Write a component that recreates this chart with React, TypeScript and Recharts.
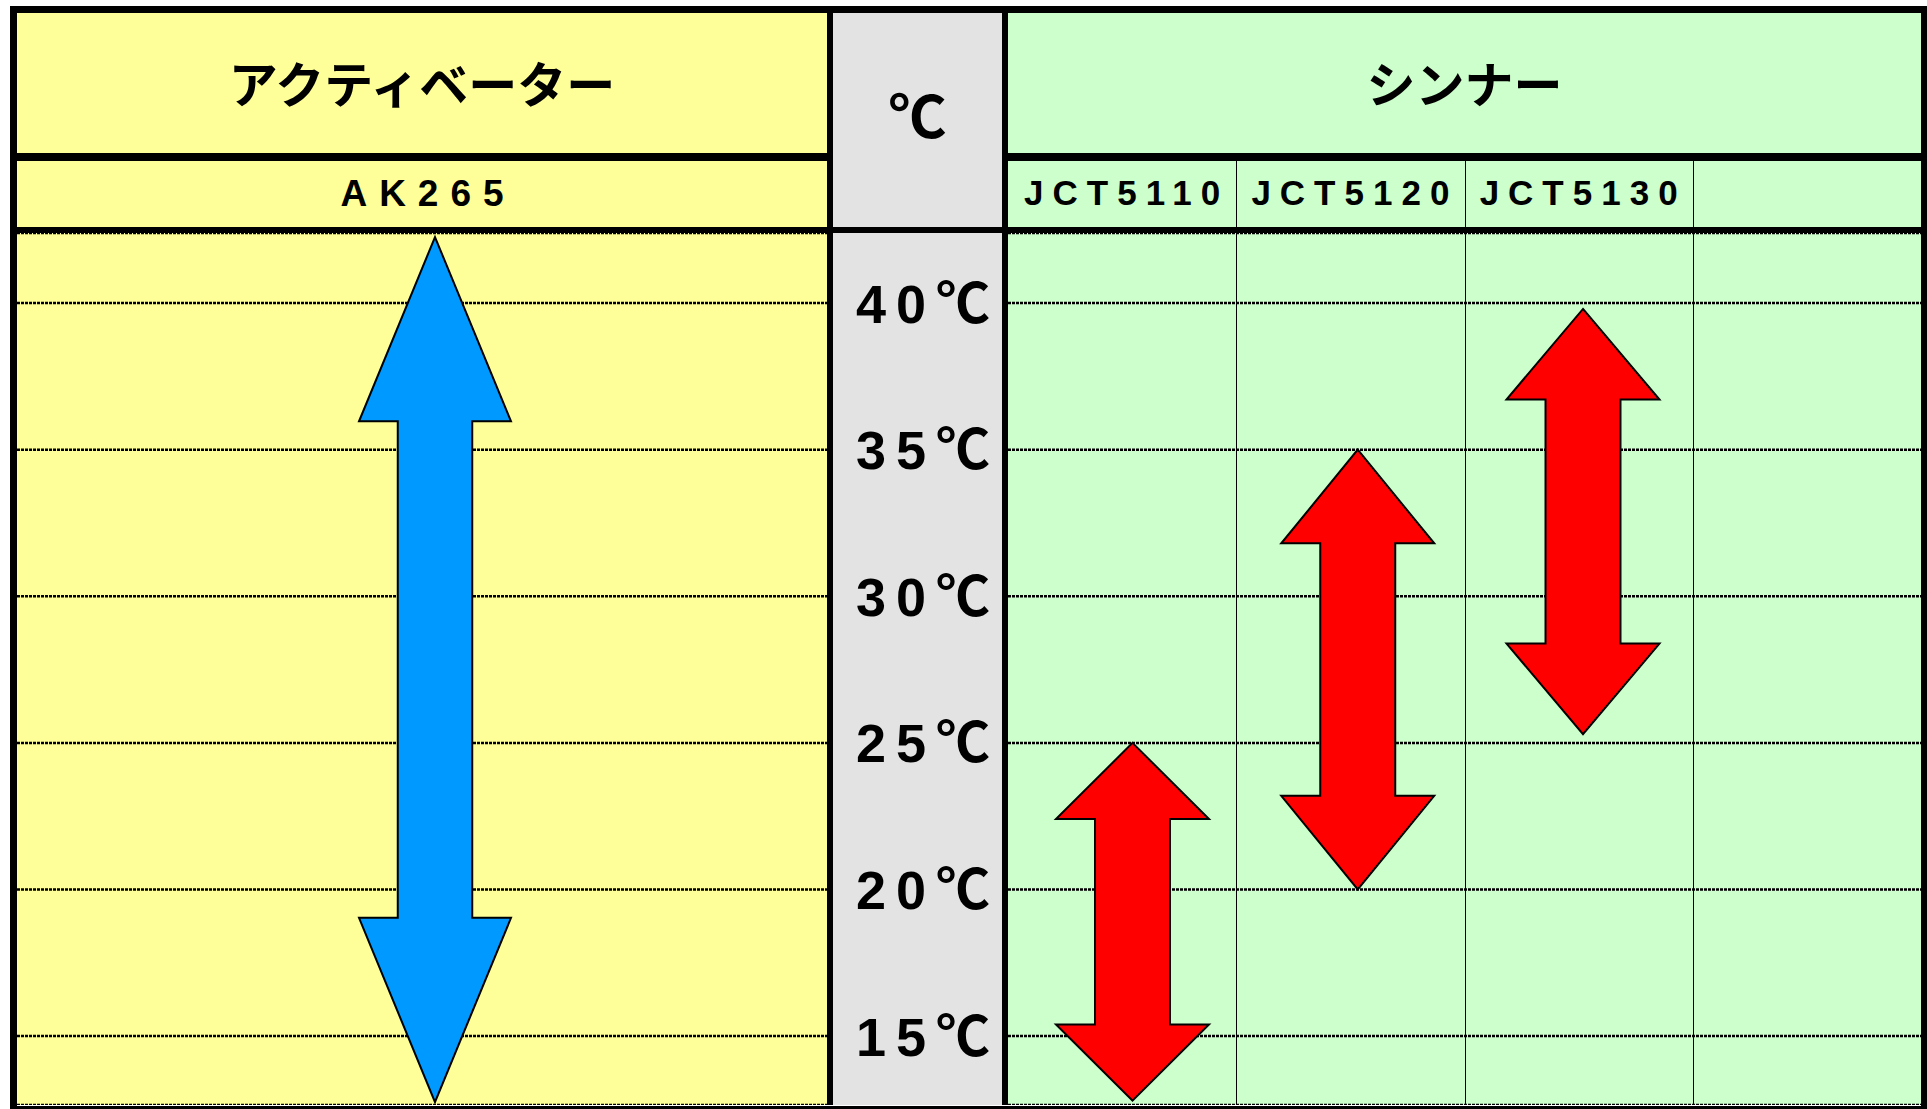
import { ComposedChart, Bar, XAxis, YAxis, CartesianGrid } from 'recharts'

// temperature scale (°C)
const TEMP_TICKS = [15, 20, 25, 30, 35, 40]
const TEMP_DOMAIN: [number, number] = [12.65, 42.39]

// activator side
const ACTIVATOR_TITLE = 'アクティベーター'
const activators = ['AK265']
const activatorRanges = [[12.75, 42.25]]

// thinner side
const THINNER_TITLE = 'シンナー'
const thinners = ['JCT5110', 'JCT5120', 'JCT5130', '']
const thinnerRanges = [[12.8, 25], [20, 35], [25.3, 39.8], null]

const activatorData = activators.map((name, i) => ({ name, range: activatorRanges[i] }))
const thinnerData = thinners.map((name, i) => ({ name, range: thinnerRanges[i] }))

const YELLOW = '#FFFF99'
const GREEN = '#CCFFCC'
const GRAY = '#E3E3E3'
const LABEL_FONT = '"Liberation Sans", "Noto Sans CJK JP", Arial, sans-serif'
const JP_FONT = '"Noto Sans CJK JP", sans-serif'

// layout (px)
const W = 1927
const H = 1109
const LEFT = 17
const RIGHT = 1921
const DIV1 = 827 // yellow | gray
const DIV2 = 1002 // gray | green
const TOP = 13
const ROW1 = 153
const ROW2 = 227
const PLOT_TOP = 233
const BOTTOM = 1105

function DoubleArrow(props: any) {
  const { x, y, width, height, fill } = props
  const len = Math.abs(height)
  if (!isFinite(len) || !len || !isFinite(x)) return <g />
  const top = Math.min(y, y + height)
  const bottom = top + len
  const cx = x + width / 2
  const hw = width / 2
  const sw = width * 0.245
  const head = len * 0.213
  const pts = [
    [cx, top], [cx + hw, top + head], [cx + sw, top + head],
    [cx + sw, bottom - head], [cx + hw, bottom - head], [cx, bottom],
    [cx - hw, bottom - head], [cx - sw, bottom - head],
    [cx - sw, top + head], [cx - hw, top + head],
  ].map(p => p.join(',')).join(' ')
  return <polygon points={pts} fill={fill} stroke="#000" strokeWidth={2} strokeLinejoin="miter" />
}

function TempTick(props: any) {
  const { y, payload } = props
  return (
    <text x={95} y={y} dy="0.36em" textAnchor="middle"
      style={{ fontFamily: LABEL_FONT, fontSize: 54, fontWeight: 700, letterSpacing: 10 }}
      fill="#000">
      {payload.value}℃
    </text>
  )
}

const box = (l: number, t: number, w: number, h: number, bg: string, z = 0): React.CSSProperties => ({
  position: 'absolute', left: l, top: t, width: w, height: h, background: bg, zIndex: z,
})

const centered = (l: number, t: number, w: number, h: number, extra: React.CSSProperties): React.CSSProperties => ({
  position: 'absolute', left: l, top: t, width: w, height: h, zIndex: 3,
  display: 'flex', alignItems: 'center', justifyContent: 'center', color: '#000',
  boxSizing: 'border-box', ...extra,
})

export default function App() {
  const plotH = BOTTOM - PLOT_TOP
  const greenW = RIGHT - (DIV2 + 6)
  const colW = greenW / thinners.length

  return (
    <div style={{ position: 'absolute', left: 0, top: 0, width: W, height: H, background: '#fff', overflow: 'hidden' }}>
      {/* cell fills */}
      <div style={box(LEFT, TOP, DIV1 - LEFT, BOTTOM - TOP, YELLOW)} />
      <div style={box(DIV1 + 6, TOP, DIV2 - DIV1 - 6, BOTTOM - TOP, GRAY)} />
      <div style={box(DIV2 + 6, TOP, RIGHT - DIV2 - 6, BOTTOM - TOP, GREEN)} />

      {/* activator chart */}
      <div style={{ position: 'absolute', left: LEFT, top: PLOT_TOP, zIndex: 1 }}>
        <ComposedChart width={DIV1 - LEFT} height={plotH} data={activatorData}
          margin={{ top: 0, right: 0, bottom: 0, left: 0 }}>
          <CartesianGrid vertical={false} stroke="#000" strokeWidth={2.5} strokeDasharray="3 1" />
          <XAxis dataKey="name" hide padding={{ left: 26, right: 0 }} />
          <YAxis type="number" domain={TEMP_DOMAIN} ticks={TEMP_TICKS} hide allowDataOverflow />
          <Bar dataKey="range" fill="#0099FF" barSize={152} shape={DoubleArrow} isAnimationActive={false} />
        </ComposedChart>
      </div>

      {/* temperature axis + thinner chart */}
      <div style={{ position: 'absolute', left: DIV1 + 6, top: PLOT_TOP, zIndex: 1 }}>
        <ComposedChart width={RIGHT - DIV1 - 6} height={plotH} data={thinnerData}
          margin={{ top: 0, right: 0, bottom: 0, left: 0 }}>
          <CartesianGrid vertical={false} stroke="#000" strokeWidth={2.5} strokeDasharray="3 1" />
          <XAxis dataKey="name" hide padding={{ left: 12, right: 0 }} />
          <YAxis type="number" domain={TEMP_DOMAIN} ticks={TEMP_TICKS} width={DIV2 + 6 - DIV1 - 6}
            axisLine={false} tickLine={false} tick={TempTick} allowDataOverflow />
          <Bar dataKey="range" fill="#FF0000" barSize={153} shape={DoubleArrow} isAnimationActive={false} />
        </ComposedChart>
      </div>

      {/* table lines */}
      <div style={box(10, 6, RIGHT + 6 - 10, 7, '#000', 2)} />
      <div style={box(10, 6, 7, H - 6, '#000', 2)} />
      <div style={box(RIGHT, 6, 7, H - 6, '#000', 2)} />
      <div style={box(10, BOTTOM + 1, RIGHT + 6 - 10, 4, '#000', 2)} />
      <div style={box(DIV1, TOP, 6, BOTTOM - TOP, '#000', 2)} />
      <div style={box(DIV2, TOP, 6, BOTTOM - TOP, '#000', 2)} />
      <div style={box(LEFT, ROW1, DIV1 - LEFT, 8, '#000', 2)} />
      <div style={box(DIV2 + 6, ROW1, RIGHT - DIV2 - 6, 8, '#000', 2)} />
      <div style={box(LEFT, ROW2, RIGHT - LEFT, 6, '#000', 2)} />
      {thinners.slice(1).map((_, i) => (
        <div key={i} style={box(Math.round(DIV2 + 6 + colW * (i + 1)), ROW1 + 8, 1, BOTTOM - ROW1 - 8, '#000', 2)} />
      ))}

      {/* header texts */}
      <div style={centered(LEFT, TOP, DIV1 - LEFT, ROW1 - TOP, { fontFamily: JP_FONT, fontSize: 49, fontWeight: 700, paddingBottom: 4 })}>
        {ACTIVATOR_TITLE}
      </div>
      <div style={centered(DIV2 + 6, TOP, RIGHT - DIV2 - 6, ROW1 - TOP, { fontFamily: JP_FONT, fontSize: 49, fontWeight: 700, paddingBottom: 4 })}>
        {THINNER_TITLE}
      </div>
      <div style={centered(DIV1 + 6, TOP, DIV2 - DIV1 - 6, ROW2 - TOP, { fontFamily: JP_FONT, fontSize: 58, fontWeight: 700, paddingBottom: 14 })}>
        ℃
      </div>
      {activators.map(a => (
        <div key={a} style={centered(LEFT, ROW1 + 8, DIV1 - LEFT, ROW2 - ROW1 - 8,
          { fontFamily: LABEL_FONT, fontSize: 37, fontWeight: 700, letterSpacing: 12, paddingLeft: 12 })}>
          {a}
        </div>
      ))}
      {thinners.map((t, i) => (
        <div key={i} style={centered(DIV2 + 6 + colW * i, ROW1 + 8, colW, ROW2 - ROW1 - 8,
          { fontFamily: LABEL_FONT, fontSize: 35, fontWeight: 700, letterSpacing: 9, paddingLeft: 9, paddingBottom: 2 })}>
          {t}
        </div>
      ))}
    </div>
  )
}
